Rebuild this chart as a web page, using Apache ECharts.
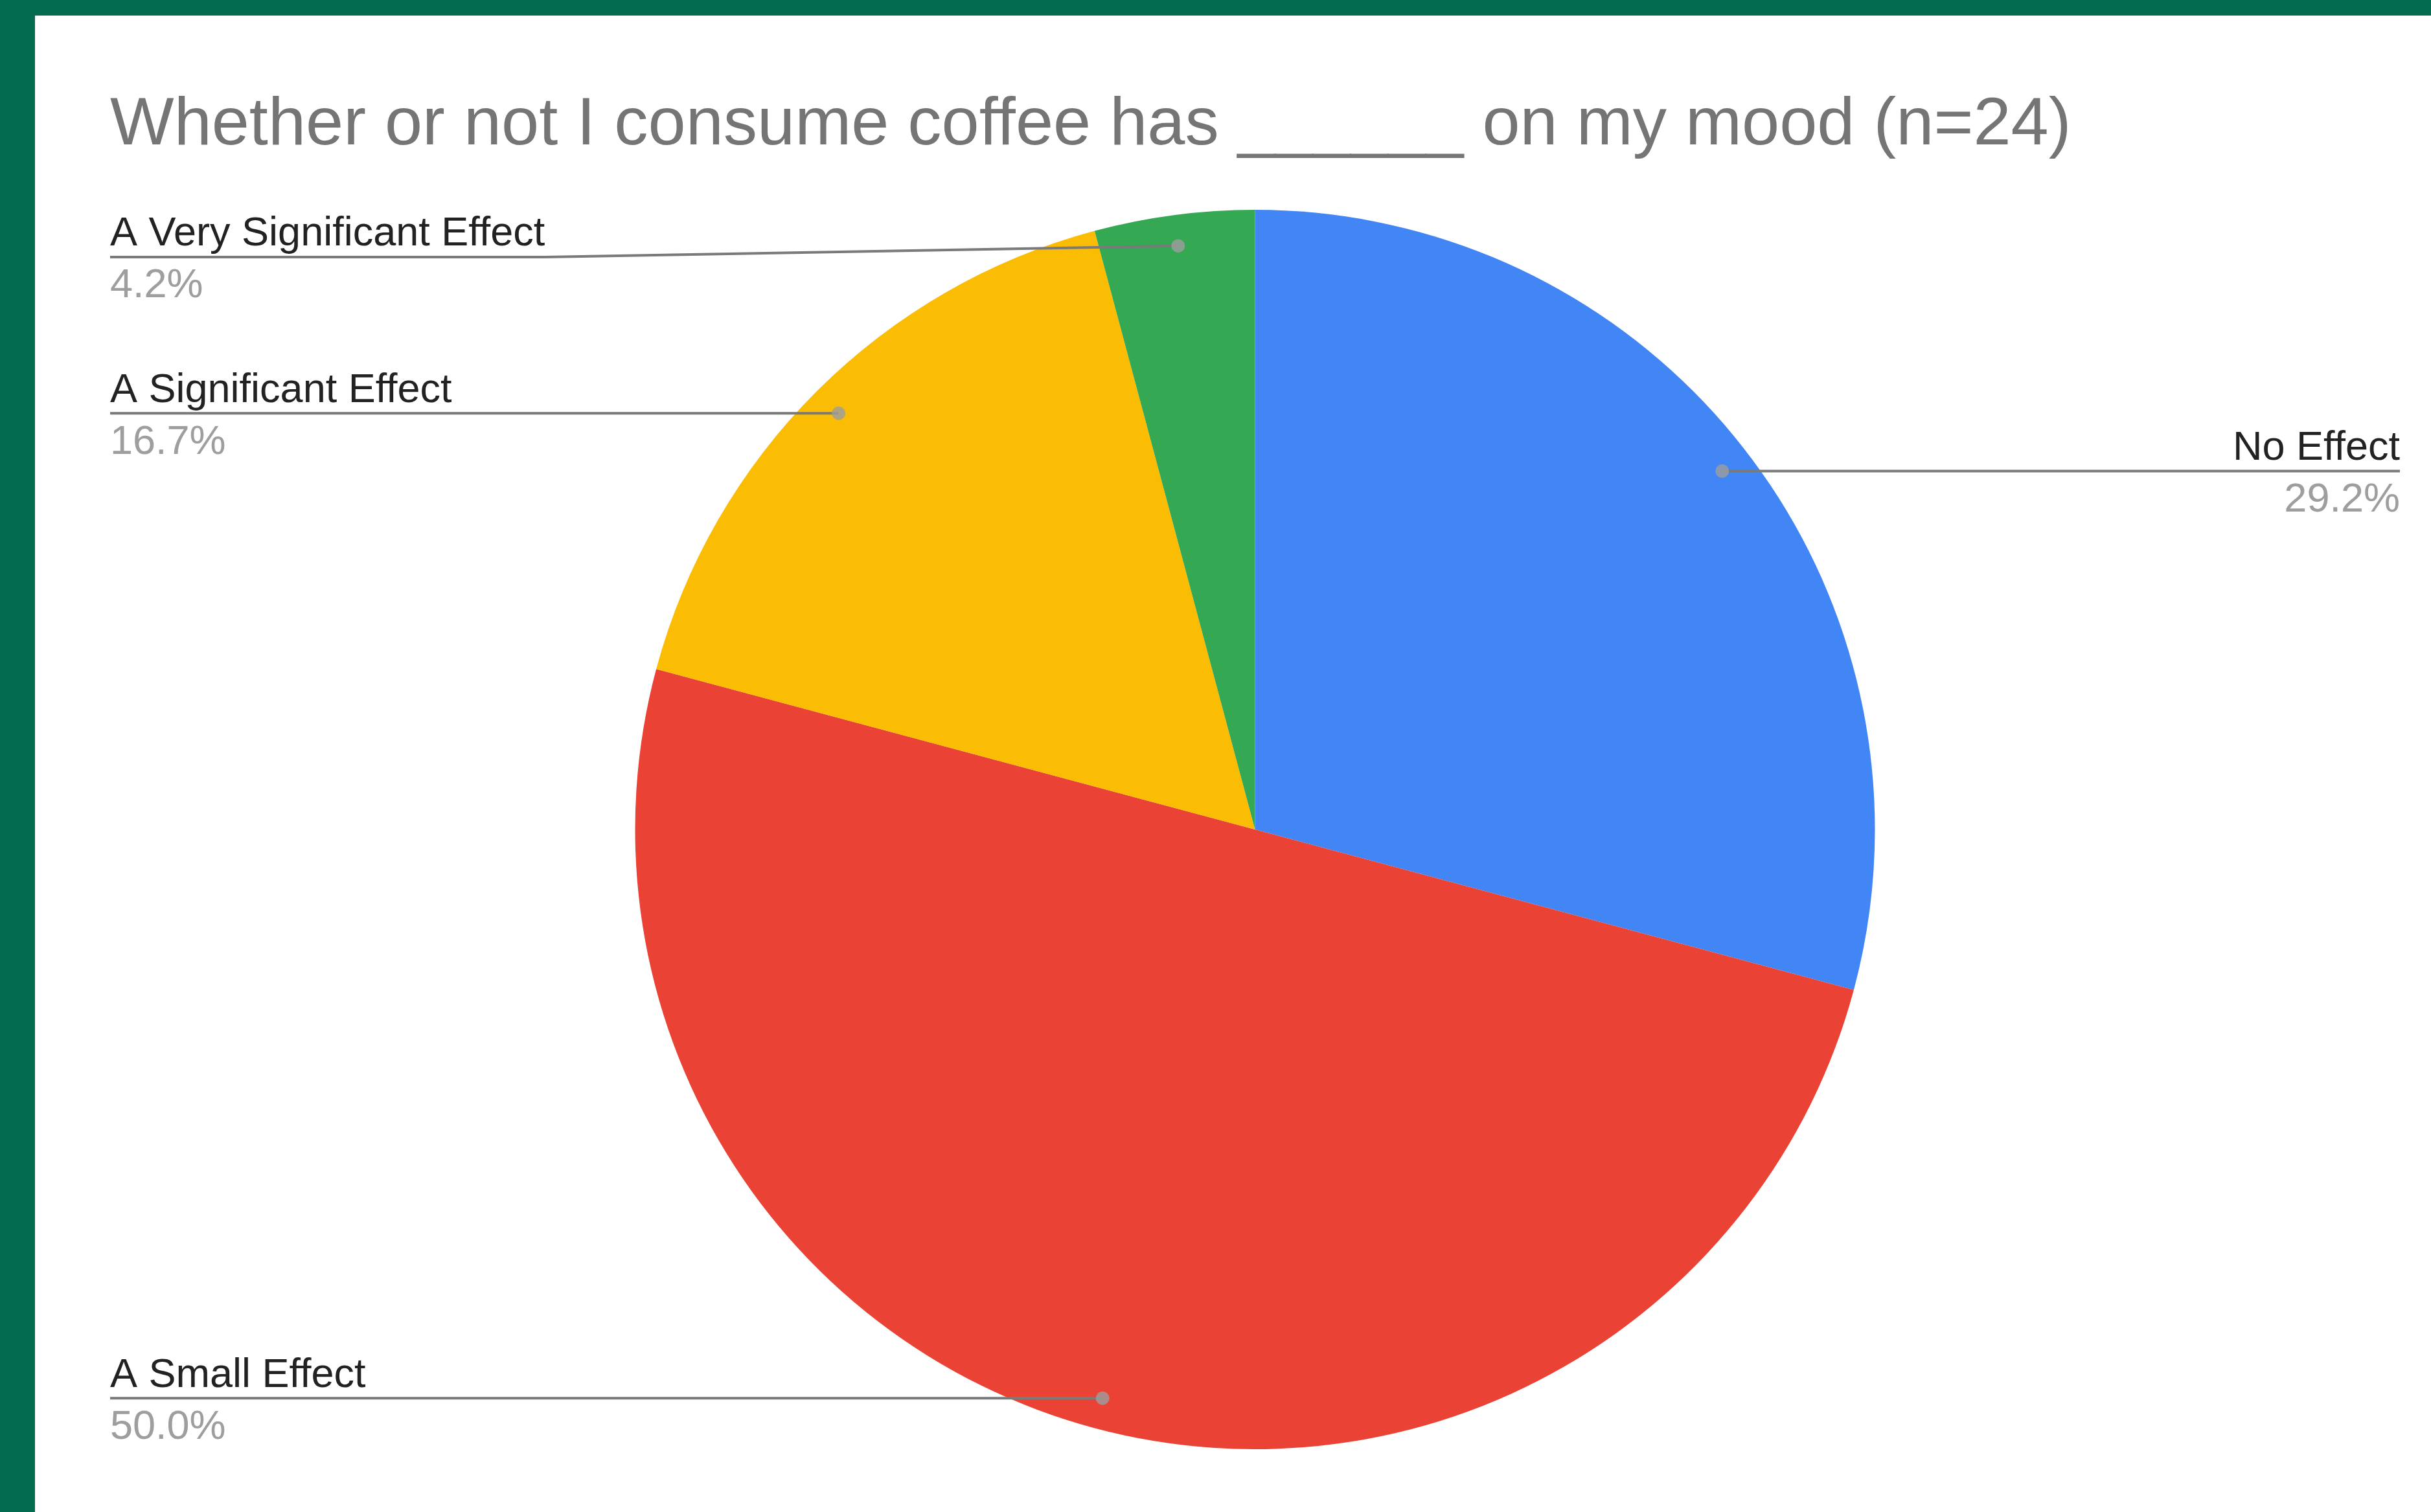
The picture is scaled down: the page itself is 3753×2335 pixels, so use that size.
<!DOCTYPE html>
<html>
<head>
<meta charset="utf-8">
<script src="https://cdn.jsdelivr.net/npm/echarts@6/dist/echarts.min.js"></script>
<style>
  html, body { margin: 0; padding: 0; background: #ffffff; overflow: hidden; }
  #chart { position: absolute; left: 0; top: 0; width: 3753px; height: 2335px; }
  .frame-top { position: absolute; left: 0; top: 0; width: 3753px; height: 24px; background: #036c50; }
  .frame-left { position: absolute; left: 0; top: 0; width: 54px; height: 2335px; background: #036c50; }
</style>
</head>
<body>
<div id="chart"></div>
<div class="frame-top"></div>
<div class="frame-left"></div>
<script>
// Survey answers (n = 24), in clockwise order from 12 o'clock
const categories = ['No Effect', 'A Small Effect', 'A Significant Effect', 'A Very Significant Effect'];
const responses = [7, 12, 4, 1];
const sliceColors = ['#4285f4', '#ea4335', '#fbbc04', '#34a853'];
const titleText = 'Whether or not I consume coffee has ______ on my mood (n=24)';

const FONT = '"Liberation Sans", Arial, Helvetica, sans-serif';
const total = responses.reduce((a, b) => a + b, 0);

const chart = echarts.init(document.getElementById('chart'));
const W = chart.getWidth();

// Layout box for the pie and its labels
const boxLeft = 170;
const boxRight = 48;
const pieCenterY = 1281;
const pieRadius = 957;
const dotRatio = 0.95;          // leader dots sit just inside the rim
const labelTopLimit = 397;      // keep labels below the title
const textShift = 5;            // name/percent block sits slightly low on its rule
const cx = boxLeft + (W - boxLeft - boxRight) / 2;
const cy = pieCenterY;

// Leader dots: one per slice, at the middle of its angular span (polar coords)
let acc = 0;
const dotData = responses.map(v => {
  const mid = acc + v / 2;
  acc += v;
  return [dotRatio, mid];
});

const pieData = (withColor) => categories.map((name, i) => ({
  name,
  value: responses[i],
  itemStyle: { color: withColor ? sliceColors[i] : 'rgba(0,0,0,0)' }
}));

const pieBase = {
  type: 'pie',
  left: boxLeft,
  right: boxRight,
  top: 0,
  bottom: 0,
  center: ['50%', pieCenterY],
  radius: pieRadius,
  startAngle: 90,
  clockwise: true,
  avoidLabelOverlap: false,
  silent: true
};

const option = {
  backgroundColor: '#ffffff',
  animation: false,
  title: {
    text: titleText,
    left: boxLeft,
    top: 141,
    padding: 0,
    textStyle: {
      fontFamily: FONT,
      fontSize: 104.5,
      lineHeight: 106,
      fontWeight: 'normal',
      color: '#757575'
    }
  },
  polar: { center: [cx, cy], radius: pieRadius },
  angleAxis: {
    type: 'value', min: 0, max: total, startAngle: 90, clockwise: true,
    show: false
  },
  radiusAxis: { type: 'value', min: 0, max: 1, show: false },
  series: [
    // coloured slices
    Object.assign({}, pieBase, {
      z: 2,
      itemStyle: { borderWidth: 0 },
      data: pieData(true),
      label: { show: false },
      labelLine: { show: false }
    }),
    // labels and leader lines, drawn over the slices
    Object.assign({}, pieBase, {
      z: 3,
      itemStyle: { borderWidth: 0 },
      data: pieData(false),
      label: {
        show: true,
        position: 'outer',
        alignTo: 'edge',
        edgeDistance: 0,
        overflow: 'none',
        formatter: p => '{name|' + p.name + '}\n{pct|' + (p.value / total * 100).toFixed(1) + '%}',
        rich: {
          name: { fontFamily: FONT, fontSize: 63, lineHeight: 80, color: '#222222' },
          pct: { fontFamily: FONT, fontSize: 63, lineHeight: 80, color: '#9e9e9e' }
        }
      },
      labelLine: {
        show: true,
        length: 20,
        length2: 20,
        smooth: false,
        lineStyle: { color: '#7a7a7a', width: 4 }
      },
      labelLayout: function (params) {
        const pts = params.labelLinePoints;
        if (!pts) return {};
        const dx = pts[0][0] - cx;
        const dy = pts[0][1] - cy;
        const len = Math.hypot(dx, dy) || 1;
        const dot = [cx + dx / len * pieRadius * dotRatio, cy + dy / len * pieRadius * dotRatio];
        const isLeft = dot[0] < cx;
        const lineY = Math.max(dot[1], labelTopLimit);
        const w = params.labelRect.width;
        if (isLeft) {
          return {
            x: boxLeft, y: lineY + textShift, align: 'left', verticalAlign: 'middle',
            labelLinePoints: [dot, [boxLeft + w, lineY], [boxLeft, lineY]]
          };
        }
        return {
          x: W - boxRight, y: lineY + textShift, align: 'right', verticalAlign: 'middle',
          labelLinePoints: [dot, [W - boxRight - w, lineY], [W - boxRight, lineY]]
        };
      }
    }),
    {
      type: 'scatter',
      coordinateSystem: 'polar',
      silent: true,
      z: 10,
      symbol: 'circle',
      symbolSize: 21,
      itemStyle: { color: '#9e9e9e' },
      data: dotData
    }
  ]
};

chart.setOption(option);
</script>
</body>
</html>
